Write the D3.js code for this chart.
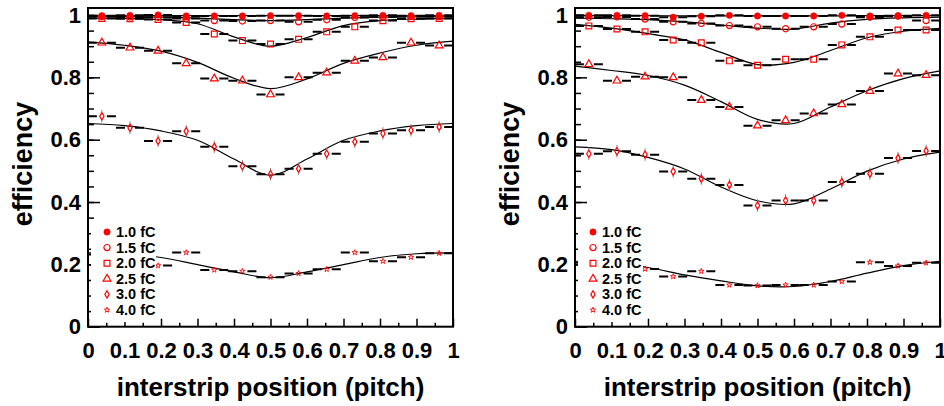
<!DOCTYPE html>
<html>
<head>
<meta charset="utf-8">
<script src="https://cdn.jsdelivr.net/npm/d3@7"></script>
<style>
  body { margin: 0; background: #fff; }
  svg { display: block; }
  text { font-family: "Liberation Sans", Arial, sans-serif; font-weight: bold; }
</style>
</head>
<body>
<script>
// bin centres (13 bins over one pitch)
var binCenters = [0.038, 0.115, 0.192, 0.269, 0.346, 0.423, 0.5, 0.577, 0.654, 0.731, 0.808, 0.885, 0.962];
var binWidth = 0.0769;
var charges = ["1.0 fC", "1.5 fC", "2.0 fC", "2.5 fC", "3.0 fC", "4.0 fC"];
var effErr = [0.002, 0.003, 0.005, 0.01, 0.02, 0.008];

var xTicks = [0, 0.1, 0.2, 0.3, 0.4, 0.5, 0.6, 0.7, 0.8, 0.9, 1];
var yTicks = [0, 0.2, 0.4, 0.6, 0.8, 1];

// left panel measured points, one row per charge
var leftEff = [
  [0.998, 0.999, 1.0, 0.997, 0.997, 0.997, 0.998, 0.998, 0.997, 0.998, 0.999, 0.998, 0.999],
  [0.995, 0.994, 0.993, 0.989, 0.982, 0.981, 0.982, 0.978, 0.985, 0.992, 0.994, 0.995, 0.995],
  [0.989, 0.988, 0.986, 0.976, 0.939, 0.918, 0.907, 0.922, 0.946, 0.962, 0.982, 0.988, 0.989],
  [0.911, 0.895, 0.885, 0.845, 0.796, 0.789, 0.745, 0.800, 0.815, 0.853, 0.864, 0.911, 0.902],
  [0.675, 0.638, 0.596, 0.627, 0.577, 0.515, 0.489, 0.507, 0.555, 0.593, 0.620, 0.630, 0.641],
  [0.232, 0.226, 0.196, 0.238, 0.182, 0.178, 0.159, 0.171, 0.184, 0.238, 0.210, 0.223, 0.236]
];
// right panel measured points
var rightEff = [
  [0.999, 0.999, 0.998, 0.993, 0.996, 0.999, 0.997, 0.997, 0.997, 0.999, 0.997, 0.998, 0.999],
  [0.993, 0.994, 0.987, 0.978, 0.973, 0.966, 0.962, 0.956, 0.962, 0.971, 0.993, 0.996, 0.982],
  [0.965, 0.955, 0.946, 0.920, 0.911, 0.853, 0.839, 0.858, 0.858, 0.904, 0.930, 0.952, 0.952],
  [0.842, 0.789, 0.802, 0.800, 0.727, 0.705, 0.645, 0.662, 0.684, 0.713, 0.756, 0.812, 0.807],
  [0.555, 0.563, 0.552, 0.498, 0.475, 0.455, 0.389, 0.405, 0.405, 0.464, 0.491, 0.541, 0.564],
  [0.205, 0.195, 0.185, 0.161, 0.178, 0.134, 0.132, 0.134, 0.134, 0.145, 0.207, 0.195, 0.205]
];

var fitX = [0, 0.1, 0.2, 0.3, 0.4, 0.5, 0.6, 0.7, 0.8, 0.9, 1];
var leftFit = [
  [0.998, 0.998, 0.998, 0.998, 0.998, 0.998, 0.998, 0.998, 0.998, 0.998, 0.998],
  [0.995, 0.995, 0.993, 0.990, 0.985, 0.982, 0.985, 0.990, 0.993, 0.995, 0.995],
  [0.990, 0.989, 0.985, 0.972, 0.930, 0.900, 0.928, 0.966, 0.982, 0.987, 0.989],
  [0.914, 0.903, 0.884, 0.848, 0.797, 0.764, 0.795, 0.845, 0.878, 0.903, 0.916],
  [0.652, 0.645, 0.628, 0.598, 0.538, 0.486, 0.538, 0.598, 0.628, 0.645, 0.652],
  [0.237, 0.234, 0.222, 0.199, 0.176, 0.157, 0.176, 0.199, 0.222, 0.234, 0.237]
];
var rightFit = [
  [0.998, 0.998, 0.998, 0.997, 0.997, 0.997, 0.997, 0.997, 0.998, 0.998, 0.998],
  [0.990, 0.988, 0.985, 0.978, 0.968, 0.958, 0.955, 0.974, 0.986, 0.991, 0.993],
  [0.970, 0.958, 0.940, 0.920, 0.880, 0.841, 0.848, 0.886, 0.927, 0.948, 0.957],
  [0.836, 0.822, 0.806, 0.775, 0.722, 0.665, 0.652, 0.705, 0.757, 0.796, 0.821],
  [0.577, 0.568, 0.543, 0.506, 0.448, 0.404, 0.394, 0.442, 0.499, 0.538, 0.560],
  [0.210, 0.203, 0.190, 0.166, 0.147, 0.131, 0.129, 0.145, 0.172, 0.196, 0.210]
];

var W = 944, H = 406;
var frameTop = 8, frameBottom = 326.7, yMax = 1.0225;

var svg = d3.select("body").append("svg")
  .attr("width", W).attr("height", H);

var symbols = [
  {type: d3.symbolCircle, size: 32, fill: true, sw: 0.5},
  {type: d3.symbolCircle, size: 30, fill: false, sw: 1.2},
  {type: d3.symbolSquare, size: 34, fill: false, sw: 1.2},
  {type: d3.symbolTriangle, size: 26, fill: false, sw: 1.2},
  {type: d3.symbolDiamond, size: 16, fill: false, sw: 1.2},
  {type: d3.symbolStar, size: 9, fill: false, sw: 0.9}
];

function marker(g, i, x, y) {
  var s = symbols[i];
  g.append("path")
    .attr("d", d3.symbol().type(s.type).size(s.size)())
    .attr("transform", "translate(" + x + "," + y + ")")
    .attr("fill", s.fill ? "#ff0000" : "none")
    .attr("stroke", "#ff0000")
    .attr("stroke-width", s.sw);
}

function panel(x0, x1, eff, fit, legX, legTextX, id) {
  var xScale = d3.scaleLinear().domain([0, 1]).range([x0, x1]);
  var yScale = d3.scaleLinear().domain([0, yMax]).range([frameBottom, frameTop]);
  var g = svg.append("g");

  g.append("clipPath").attr("id", "clip" + id)
    .append("rect").attr("x", x0).attr("y", frameTop).attr("width", x1 - x0).attr("height", frameBottom - frameTop);

  /*Axes*/
  var yAxis = d3.axisLeft(yScale).tickValues(yTicks).tickSize(-12).tickPadding(7)
    .tickFormat(d3.format("~g"));
  var yMinor = d3.axisLeft(yScale).tickValues(d3.range(0.05, 1.01, 0.05)).tickSize(-6).tickFormat("");
  var xAxis = d3.axisBottom(xScale).tickValues(xTicks).tickSize(-8).tickPadding(16)
    .tickFormat(d3.format("~g"));
  var xMinor = d3.axisBottom(xScale).tickValues(d3.range(0.05, 1, 0.1)).tickSize(-4).tickFormat("");

  [[yAxis, "translate(" + x0 + ",0)"], [yMinor, "translate(" + x0 + ",0)"],
   [xAxis, "translate(0," + frameBottom + ")"], [xMinor, "translate(0," + frameBottom + ")"]].forEach(function(a) {
    var ag = g.append("g").attr("transform", a[1]).call(a[0]);
    ag.select(".domain").remove();
    ag.selectAll("line").attr("stroke", "#000").attr("stroke-width", 1.5);
    ag.selectAll("text").attr("font-size", 22).attr("fill", "#000")
      .style("font-family", "'Liberation Sans', Arial, sans-serif").style("font-weight", "bold");
  });

  var plot = g.append("g").attr("clip-path", "url(#clip" + id + ")");

  /*Fits*/
  var line = d3.line()
    .x(function(d, i) { return xScale(fitX[i]); })
    .y(function(d) { return yScale(d); })
    .curve(d3.curveCatmullRom);
  fit.forEach(function(f) {
    plot.append("path").attr("d", line(f))
      .attr("fill", "none").attr("stroke", "#000").attr("stroke-width", 1.2);
  });

  /*Points with errors*/
  eff.forEach(function(series, si) {
    series.forEach(function(v, bi) {
      var cx = xScale(binCenters[bi]), cy = yScale(v);
      var xl = xScale(binCenters[bi] - binWidth / 2), xr = xScale(binCenters[bi] + binWidth / 2);
      plot.append("line").attr("x1", xl).attr("x2", cx - 5).attr("y1", cy).attr("y2", cy)
        .attr("stroke", "#000").attr("stroke-width", 2);
      plot.append("line").attr("x1", cx + 5).attr("x2", xr).attr("y1", cy).attr("y2", cy)
        .attr("stroke", "#000").attr("stroke-width", 2);
      var eu = yScale(Math.min(v + effErr[si], 1)), ed = yScale(v - effErr[si]);
      if (cy - eu > 4) plot.append("line").attr("x1", cx).attr("x2", cx).attr("y1", eu).attr("y2", cy - 4)
        .attr("stroke", "#888").attr("stroke-width", 1);
      if (ed - cy > 4) plot.append("line").attr("x1", cx).attr("x2", cx).attr("y1", cy + 4).attr("y2", ed)
        .attr("stroke", "#888").attr("stroke-width", 1);
      marker(plot, si, cx, cy);
    });
  });

  /*Legend*/
  g.append("rect").attr("x", x0 + 3).attr("y", 223).attr("width", 65).attr("height", 99)
    .attr("fill", "#fff");
  charges.forEach(function(c, i) {
    var ly = 232 + i * 15.6;
    marker(g, i, legX, ly);
    g.append("text").attr("x", legTextX).attr("y", ly + 5).attr("font-size", 14.5).text(c);
  });

  /*Frame*/
  g.append("rect").attr("x", x0).attr("y", frameTop).attr("width", x1 - x0).attr("height", frameBottom - frameTop)
    .attr("fill", "none").attr("stroke", "#000").attr("stroke-width", 2);

  /*Titles*/
  g.append("text").attr("x", (x0 + x1) / 2).attr("y", 396).attr("text-anchor", "middle")
    .attr("font-size", 26).text("interstrip position (pitch)");
  g.append("text").attr("transform", "translate(" + (x0 - 56) + ",164) rotate(-90)")
    .attr("text-anchor", "middle").attr("font-size", 27).text("efficiency");
}

panel(88, 453, leftEff, leftFit, 107, 116, "L");
panel(575, 940, rightEff, rightFit, 593, 602, "R");
</script>
</body>
</html>
